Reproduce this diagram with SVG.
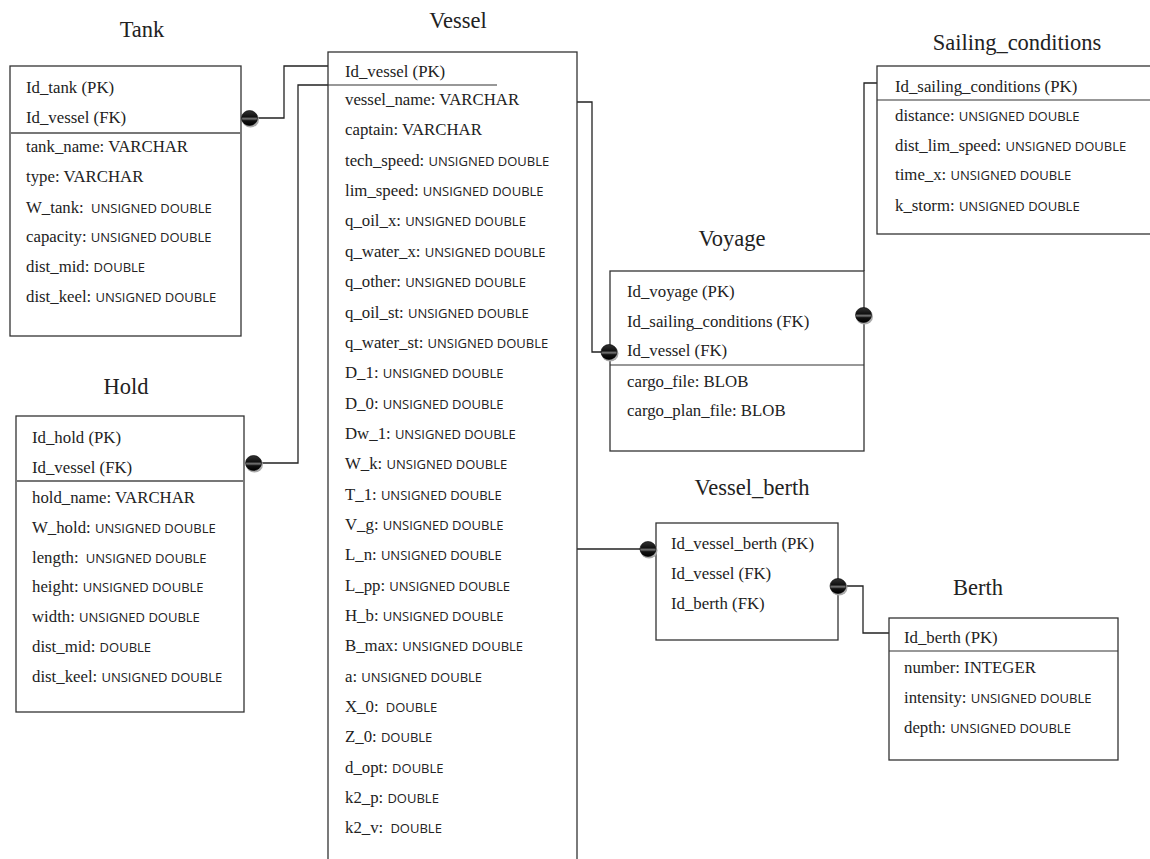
<svg xmlns="http://www.w3.org/2000/svg" width="1150" height="859" viewBox="0 0 1150 859">
<style>
.box{fill:#fff;stroke:#333;stroke-width:1.3}
.sep{stroke:#333;stroke-width:1.2}
.sepg{stroke:#777;stroke-width:2}
.ttl{font-family:"Liberation Serif",serif;font-size:22.5px;fill:#222;text-anchor:middle}
.r{font-family:"Liberation Serif",serif;font-size:16.8px;fill:#222}
.t{font-family:"Open Sans",sans-serif;font-size:13px;fill:#222}
.con{fill:none;stroke:#222;stroke-width:1.3}
.sh{fill:#aaa}
.dot{fill:url(#dg);stroke:#000;stroke-width:0.6}
</style>
<defs>
<linearGradient id="dg" x1="0" y1="0" x2="0" y2="1">
<stop offset="0" stop-color="#333"/>
<stop offset="0.42" stop-color="#111"/>
<stop offset="0.55" stop-color="#777"/>
<stop offset="0.68" stop-color="#111"/>
<stop offset="1" stop-color="#000"/>
</linearGradient>
</defs>
<rect width="1150" height="859" fill="#fff"/>

<g id="connectors">
<path class="con" d="M257 118 H284 V66 H329"/>
<path class="con" d="M262 463 H298 V85 H329"/>
<path class="con" d="M577 102 H592 V352 H602"/>
<path class="con" d="M864 271 V83 H877"/>
<path class="con" d="M577 549 H640"/>
<path class="con" d="M846 586 H863 V633 H889"/>
</g>

<g id="tank">
<text class="ttl" x="142" y="37">Tank</text>
<rect class="box" x="10" y="66" width="231" height="270"/>
<line class="sepg" x1="10" y1="133" x2="241" y2="133"/>
<text class="r" x="26" y="93">Id_tank (PK)</text>
<text class="r" x="26" y="123">Id_vessel (FK)</text>
<text class="r" x="26" y="152">tank_name: VARCHAR</text>
<text class="r" x="26" y="182">type: VARCHAR</text>
<text class="r" x="26" y="213">W_tank: <tspan class="t" dx="3">UNSIGNED DOUBLE</tspan></text>
<text class="r" x="26" y="242">capacity: <tspan class="t">UNSIGNED DOUBLE</tspan></text>
<text class="r" x="26" y="272">dist_mid: <tspan class="t">DOUBLE</tspan></text>
<text class="r" x="26" y="302">dist_keel: <tspan class="t">UNSIGNED DOUBLE</tspan></text>
</g>

<g id="hold">
<text class="ttl" x="126" y="394">Hold</text>
<rect class="box" x="16" y="416" width="228" height="296"/>
<line class="sepg" x1="16" y1="481" x2="244" y2="481"/>
<text class="r" x="32" y="443">Id_hold (PK)</text>
<text class="r" x="32" y="473">Id_vessel (FK)</text>
<text class="r" x="32" y="503">hold_name: VARCHAR</text>
<text class="r" x="32" y="533">W_hold: <tspan class="t">UNSIGNED DOUBLE</tspan></text>
<text class="r" x="32" y="563">length: <tspan class="t" dx="3">UNSIGNED DOUBLE</tspan></text>
<text class="r" x="32" y="592">height: <tspan class="t">UNSIGNED DOUBLE</tspan></text>
<text class="r" x="32" y="622">width: <tspan class="t">UNSIGNED DOUBLE</tspan></text>
<text class="r" x="32" y="652">dist_mid: <tspan class="t">DOUBLE</tspan></text>
<text class="r" x="32" y="682">dist_keel: <tspan class="t">UNSIGNED DOUBLE</tspan></text>
</g>

<g id="vessel">
<text class="ttl" x="458" y="28">Vessel</text>
<rect class="box" x="328" y="52" width="249" height="830"/>
<line class="sep" x1="328" y1="85" x2="497" y2="85"/>
<text class="r" x="345" y="77">Id_vessel (PK)</text>
<text class="r" x="345" y="105">vessel_name: VARCHAR</text>
<text class="r" x="345" y="135">captain: VARCHAR</text>
<text class="r" x="345" y="166">tech_speed: <tspan class="t">UNSIGNED DOUBLE</tspan></text>
<text class="r" x="345" y="196">lim_speed: <tspan class="t">UNSIGNED DOUBLE</tspan></text>
<text class="r" x="345" y="226">q_oil_x: <tspan class="t">UNSIGNED DOUBLE</tspan></text>
<text class="r" x="345" y="257">q_water_x: <tspan class="t">UNSIGNED DOUBLE</tspan></text>
<text class="r" x="345" y="287">q_other: <tspan class="t">UNSIGNED DOUBLE</tspan></text>
<text class="r" x="345" y="318">q_oil_st: <tspan class="t">UNSIGNED DOUBLE</tspan></text>
<text class="r" x="345" y="348">q_water_st: <tspan class="t">UNSIGNED DOUBLE</tspan></text>
<text class="r" x="345" y="378">D_1: <tspan class="t">UNSIGNED DOUBLE</tspan></text>
<text class="r" x="345" y="409">D_0: <tspan class="t">UNSIGNED DOUBLE</tspan></text>
<text class="r" x="345" y="439">Dw_1: <tspan class="t">UNSIGNED DOUBLE</tspan></text>
<text class="r" x="345" y="469">W_k: <tspan class="t">UNSIGNED DOUBLE</tspan></text>
<text class="r" x="345" y="500">T_1: <tspan class="t">UNSIGNED DOUBLE</tspan></text>
<text class="r" x="345" y="530">V_g: <tspan class="t">UNSIGNED DOUBLE</tspan></text>
<text class="r" x="345" y="560">L_n: <tspan class="t">UNSIGNED DOUBLE</tspan></text>
<text class="r" x="345" y="591">L_pp: <tspan class="t">UNSIGNED DOUBLE</tspan></text>
<text class="r" x="345" y="621">H_b: <tspan class="t">UNSIGNED DOUBLE</tspan></text>
<text class="r" x="345" y="651">B_max: <tspan class="t">UNSIGNED DOUBLE</tspan></text>
<text class="r" x="345" y="682">a: <tspan class="t">UNSIGNED DOUBLE</tspan></text>
<text class="r" x="345" y="712">X_0: <tspan class="t" dx="3">DOUBLE</tspan></text>
<text class="r" x="345" y="742">Z_0: <tspan class="t">DOUBLE</tspan></text>
<text class="r" x="345" y="773">d_opt: <tspan class="t">DOUBLE</tspan></text>
<text class="r" x="345" y="803">k2_p: <tspan class="t">DOUBLE</tspan></text>
<text class="r" x="345" y="833">k2_v: <tspan class="t" dx="3">DOUBLE</tspan></text>
</g>

<g id="voyage">
<text class="ttl" x="732" y="246">Voyage</text>
<rect class="box" x="610" y="271" width="254" height="180"/>
<line class="sep" x1="610" y1="365" x2="864" y2="365"/>
<text class="r" x="627" y="297">Id_voyage (PK)</text>
<text class="r" x="627" y="327">Id_sailing_conditions (FK)</text>
<text class="r" x="627" y="356">Id_vessel (FK)</text>
<text class="r" x="627" y="387">cargo_file: BLOB</text>
<text class="r" x="627" y="416">cargo_plan_file: BLOB</text>
</g>

<g id="sailing_conditions">
<text class="ttl" x="1017" y="50">Sailing_conditions</text>
<rect class="box" x="877" y="66" width="290" height="168"/>
<line class="sep" x1="877" y1="100" x2="1150" y2="100"/>
<text class="r" x="895" y="92">Id_sailing_conditions (PK)</text>
<text class="r" x="895" y="121">distance: <tspan class="t">UNSIGNED DOUBLE</tspan></text>
<text class="r" x="895" y="151">dist_lim_speed: <tspan class="t">UNSIGNED DOUBLE</tspan></text>
<text class="r" x="895" y="180">time_x: <tspan class="t">UNSIGNED DOUBLE</tspan></text>
<text class="r" x="895" y="211">k_storm: <tspan class="t">UNSIGNED DOUBLE</tspan></text>
</g>

<g id="vessel_berth">
<text class="ttl" x="752" y="495">Vessel_berth</text>
<rect class="box" x="656" y="523" width="182" height="117"/>
<text class="r" x="671" y="549">Id_vessel_berth (PK)</text>
<text class="r" x="671" y="579">Id_vessel (FK)</text>
<text class="r" x="671" y="609">Id_berth (FK)</text>
</g>

<g id="berth">
<text class="ttl" x="978" y="595">Berth</text>
<rect class="box" x="889" y="618" width="229" height="142"/>
<line class="sep" x1="889" y1="651" x2="1118" y2="651"/>
<text class="r" x="904" y="643">Id_berth (PK)</text>
<text class="r" x="904" y="673">number: INTEGER</text>
<text class="r" x="904" y="703">intensity: <tspan class="t">UNSIGNED DOUBLE</tspan></text>
<text class="r" x="904" y="733">depth: <tspan class="t">UNSIGNED DOUBLE</tspan></text>
</g>

<g id="ends">
<ellipse class="sh" cx="250.5" cy="119.5" rx="8.5" ry="8"/>
<ellipse class="dot" cx="249.5" cy="118" rx="8" ry="7.5"/>
<ellipse class="sh" cx="254.5" cy="464.5" rx="8.5" ry="8"/>
<ellipse class="dot" cx="253.5" cy="463" rx="8" ry="7.5"/>
<ellipse class="sh" cx="610" cy="353.5" rx="8.5" ry="8"/>
<ellipse class="dot" cx="609" cy="352" rx="8" ry="7.5"/>
<ellipse class="sh" cx="864.5" cy="316.5" rx="8.5" ry="8"/>
<ellipse class="dot" cx="863.5" cy="315" rx="8" ry="7.5"/>
<ellipse class="sh" cx="649" cy="550.5" rx="8.5" ry="8"/>
<ellipse class="dot" cx="648" cy="549" rx="8" ry="7.5"/>
<ellipse class="sh" cx="839" cy="587.5" rx="8.5" ry="8"/>
<ellipse class="dot" cx="838" cy="586" rx="8" ry="7.5"/>
</g>
</svg>
